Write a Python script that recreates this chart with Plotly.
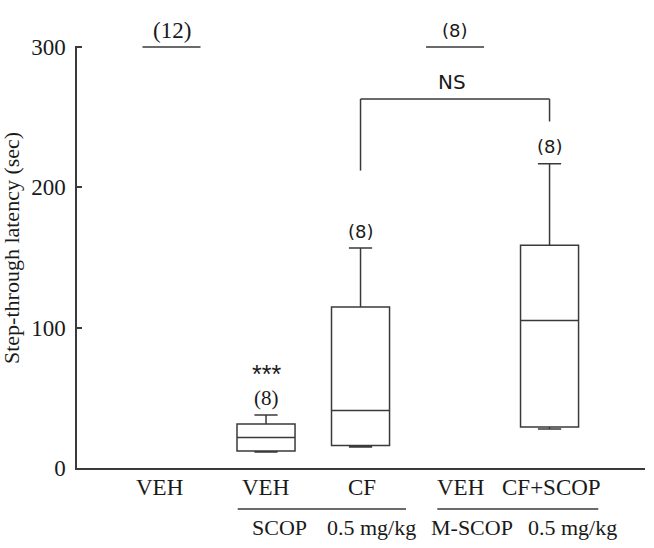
import plotly.graph_objects as go

# ---- data ----
groups = ["VEH", "VEH", "CF", "VEH", "CF+SCOP"]
positions = [1, 2, 3, 4, 5]
q1 = [300, 12.1, 16.1, 300, 29.2]
median = [300, 21.8, 41.0, 300, 105.2]
q3 = [300, 31.4, 114.7, 300, 158.7]
lowerfence = [300, 11.4, 15.0, 300, 27.8]
upperfence = [300, 37.8, 156.8, 300, 216.9]
n_labels = ["(12)", "(8)", "(8)", "(8)", "(8)"]
treatments = ["SCOP", "0.5 mg/kg", "M-SCOP", "0.5 mg/kg"]
sig_label = "***"
ns_label = "NS"
bracket_top = 263
bracket_left_end = 212
bracket_right_end = 247

SERIF = "Liberation Serif"
SANS = "DejaVu Sans"
LINE = "#3a3a3a"
TXT = "#1a1a1a"

fig = go.Figure()
fig.add_trace(go.Box(
    x=positions, q1=q1, median=median, q3=q3,
    lowerfence=lowerfence, upperfence=upperfence,
    width=0.614, whiskerwidth=0.4,
    fillcolor="rgba(0,0,0,0)",
    line=dict(color=LINE, width=1.5),
    boxpoints=False, showlegend=False, hoverinfo="skip",
))

L, R, T, B = 77, 9, 46, 80
W, H = 654, 548
pw, ph = W - L - R, H - T - B

def px2paper_x(px):
    return (px - L) / pw

def px2paper_y(py):
    return (H - B - py) / ph

ann = []
# sample sizes
label_fonts = [SERIF, SERIF, SANS, SANS, SANS]
label_sizes = [23, 21, 18, 18, 18]
for xp, up, lab, fnt, sz in zip(positions, upperfence, n_labels, label_fonts, label_sizes):
    ann.append(dict(x=xp, y=up, xref="x", yref="y", text=lab, showarrow=False,
                    yanchor="middle", yshift=17,
                    font=dict(family=fnt, size=sz, color=TXT)))
# significance stars over group 2
ann.append(dict(x=positions[1], y=upperfence[1], xref="x", yref="y", text=sig_label,
                showarrow=False, yanchor="middle", yshift=41,
                font=dict(family="Liberation Sans", size=25, color=TXT)))
# NS
ann.append(dict(x=(positions[2] + positions[4]) / 2 - 0.03, y=bracket_top, xref="x", yref="y",
                text=ns_label, showarrow=False, yanchor="middle", yshift=17,
                font=dict(family=SANS, size=20, color=TXT)))
# x category labels
cat_px = [159, 265, 362, 460, 551.7]
for px, g in zip(cat_px, groups):
    ann.append(dict(x=px2paper_x(px), y=px2paper_y(487.5), xref="paper", yref="paper",
                    text=g, showarrow=False, xanchor="center", yanchor="middle",
                    font=dict(family=SERIF, size=23, color=TXT)))
# treatment labels
treat_px = [279, 371, 472, 572]
for px, t in zip(treat_px, treatments):
    ann.append(dict(x=px2paper_x(px), y=px2paper_y(527), xref="paper", yref="paper",
                    text=t, showarrow=False, xanchor="center", yanchor="middle",
                    font=dict(family=SERIF, size=22, color=TXT)))
# y title
ann.append(dict(x=px2paper_x(12), y=px2paper_y(248), xref="paper", yref="paper",
                text="Step-through latency (sec)", textangle=-90, showarrow=False,
                xanchor="center", yanchor="middle",
                font=dict(family=SERIF, size=22, color=TXT)))

shapes = []
# bracket
shapes.append(dict(type="line", xref="x", yref="y", x0=positions[2], x1=positions[2],
                   y0=bracket_left_end, y1=bracket_top, line=dict(color=LINE, width=1.5)))
shapes.append(dict(type="line", xref="x", yref="y", x0=positions[2], x1=positions[4],
                   y0=bracket_top, y1=bracket_top, line=dict(color=LINE, width=1.5)))
shapes.append(dict(type="line", xref="x", yref="y", x0=positions[4], x1=positions[4],
                   y0=bracket_right_end, y1=bracket_top, line=dict(color=LINE, width=1.5)))
# treatment group underlines
for a, b in [(237.7, 406), (437.3, 598.3)]:
    shapes.append(dict(type="line", xref="paper", yref="paper",
                       x0=px2paper_x(a), x1=px2paper_x(b),
                       y0=px2paper_y(509), y1=px2paper_y(509),
                       line=dict(color=LINE, width=1.5)))

fig.update_layout(
    width=W, height=H,
    margin=dict(l=L, r=R, t=T, b=B, pad=0),
    paper_bgcolor="white", plot_bgcolor="white",
    xaxis=dict(range=[0, 6.01], showline=True, linecolor=LINE, linewidth=1.5,
               showgrid=False, zeroline=False, showticklabels=False, ticks=""),
    yaxis=dict(range=[0, 300.8], showline=True, linecolor=LINE, linewidth=1.5,
               showgrid=False, zeroline=False, tickvals=[0, 100, 200, 300],
               ticks="inside", ticklen=5, tickcolor=LINE, tickwidth=1.5,
               ticklabelstandoff=5,
               tickfont=dict(family=SERIF, size=23, color=TXT)),
    annotations=ann, shapes=shapes,
)

fig.write_html("out.html")
